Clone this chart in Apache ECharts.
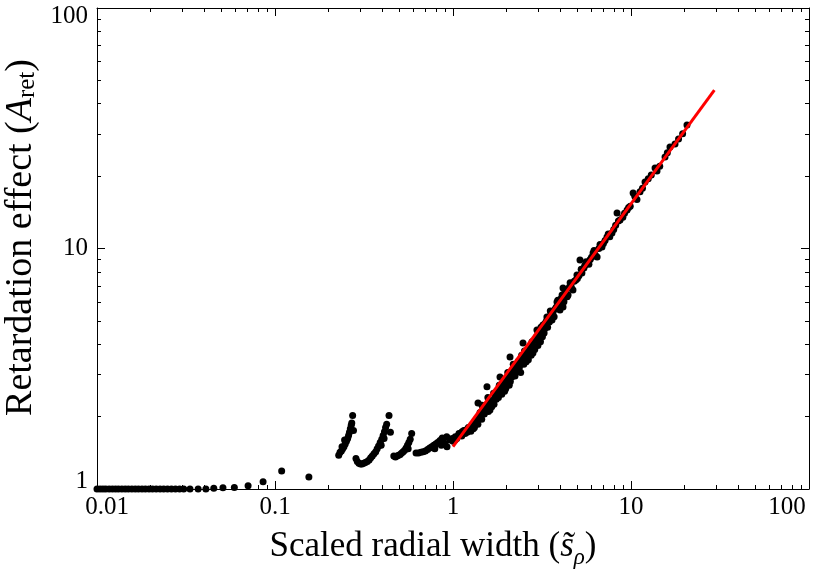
<!DOCTYPE html>
<html>
<head>
<meta charset="utf-8">
<script src="https://cdn.jsdelivr.net/npm/echarts@6.0.0/dist/echarts.min.js"></script>
<style>
	html, body { margin: 0; padding: 0; background: #fff; }
	#grafico { width: 829px; height: 574px; }
</style>
</head>
<body>
<div id="grafico"></div>
<script>
// Valores (x = largura radial escalada, y = efeito de retardo)

// cauda em y ~ 1 (x pequeno)
const pontosCauda = [
	[0.0100, 1.0], [0.0104, 1.0], [0.0108, 1.0], [0.0112, 1.0], [0.0117, 1.0],
	[0.0122, 1.0], [0.0127, 1.0], [0.0132, 1.0], [0.0138, 1.0], [0.0144, 1.0],
	[0.0150, 1.0], [0.0157, 1.0], [0.0164, 1.0], [0.0171, 1.0], [0.0179, 1.0],
	[0.0187, 1.0], [0.0196, 1.0], [0.0205, 1.0], [0.0215, 1.0], [0.0226, 1.0],
	[0.0237, 1.0], [0.0249, 1.0], [0.0262, 1.0], [0.0276, 1.0], [0.0291, 1.0],
	[0.0307, 1.0], [0.0333, 1.0], [0.0370, 1.0], [0.0409, 1.0], [0.0453, 1.007],
	[0.0510, 1.012], [0.0591, 1.015], [0.0706, 1.032], [0.0857, 1.072],
	[0.109, 1.188], [0.155, 1.122]
];

// picos (dentes de serra) entre 0.2 e 1
const pontosPicos = [
	[0.228, 1.38], [0.232, 1.42], [0.236, 1.44], [0.240, 1.47], [0.244, 1.50],
	[0.248, 1.54], [0.252, 1.58], [0.256, 1.62], [0.259, 1.67], [0.262, 1.72],
	[0.265, 1.78], [0.268, 1.84], [0.270, 1.88], [0.273, 2.02], [0.246, 1.60],
	[0.238, 1.50], [0.276, 1.75],
	[0.285, 1.34], [0.290, 1.30], [0.296, 1.28], [0.302, 1.27], [0.308, 1.27],
	[0.315, 1.28], [0.322, 1.29], [0.330, 1.30], [0.338, 1.32], [0.345, 1.35],
	[0.352, 1.37], [0.360, 1.40], [0.368, 1.43], [0.375, 1.47], [0.382, 1.51],
	[0.390, 1.56], [0.398, 1.61], [0.405, 1.67], [0.412, 1.73], [0.418, 1.80],
	[0.424, 1.86], [0.437, 2.02], [0.395, 1.52], [0.410, 1.62], [0.445, 1.72],
	[0.465, 1.37], [0.475, 1.36], [0.485, 1.37], [0.495, 1.38], [0.505, 1.39],
	[0.515, 1.41], [0.525, 1.43], [0.535, 1.45], [0.545, 1.48], [0.555, 1.52],
	[0.565, 1.56], [0.575, 1.61], [0.586, 1.70], [0.560, 1.47],
	[0.620, 1.41], [0.640, 1.41], [0.660, 1.42], [0.680, 1.43], [0.700, 1.44],
	[0.720, 1.46], [0.740, 1.48], [0.760, 1.50], [0.780, 1.52], [0.800, 1.54],
	[0.820, 1.56], [0.845, 1.59], [0.870, 1.63], [0.900, 1.55], [0.922, 1.65],
	[0.790, 1.47], [0.860, 1.52]
];

// faixa principal (x > 1)
const pontosFaixa = [
	[0.925, 1.50], [0.962, 1.60], [0.99, 1.62], [1.00, 1.58], [1.026, 1.60],
	[1.03, 1.65], [1.05, 1.62], [1.067, 1.66], [1.08, 1.70], [1.10, 1.68],
	[1.124, 1.73], [1.15, 1.75], [1.183, 1.76], [1.20, 1.72], [1.22, 1.80],
	[1.246, 1.79], [1.27, 1.82], [1.295, 1.85], [1.30, 1.78], [1.33, 1.90],
	[1.347, 1.94], [1.36, 1.88], [1.382, 2.28], [1.40, 2.00], [1.45, 1.95],
	[1.455, 2.23], [1.50, 2.05], [1.552, 2.66], [1.58, 2.10], [1.613, 2.13],
	[1.62, 2.30], [1.678, 2.34], [1.70, 2.25], [1.72, 2.45], [1.767, 2.53],
	[1.80, 2.40], [1.837, 2.92], [1.85, 2.60], [1.91, 2.71], [1.95, 2.55],
	[2.00, 2.75], [2.011, 2.84], [2.05, 2.95], [2.091, 3.54], [2.10, 2.80],
	[2.173, 3.12], [2.20, 3.00], [2.25, 3.25], [2.288, 3.07], [2.30, 3.15],
	[2.379, 3.34], [2.40, 3.05], [2.45, 3.45], [2.473, 4.05], [2.50, 3.30],
	[2.55, 3.55], [2.603, 3.61], [2.65, 3.45], [2.70, 3.90], [2.706, 3.78],
	[2.75, 3.60], [2.813, 3.68], [2.85, 3.90], [2.90, 4.15], [2.962, 4.58],
	[3.00, 3.95], [3.05, 4.40], [3.079, 4.25], [3.10, 4.10], [3.15, 4.55],
	[3.201, 4.81], [3.25, 4.45], [3.30, 4.90], [3.37, 5.19], [3.40, 4.70],
	[3.45, 5.10], [3.55, 5.30], [3.60, 5.04], [3.65, 5.45], [3.70, 5.20],
	[3.80, 5.70], [3.84, 5.99], [3.90, 5.80], [3.99, 5.55], [4.05, 6.20],
	[4.15, 5.71], [4.15, 6.85], [4.20, 6.00], [4.30, 6.50], [4.43, 6.41],
	[4.50, 6.90], [4.60, 7.00], [4.72, 6.72], [4.80, 7.30], [4.97, 7.76],
	[5.00, 7.50], [5.17, 8.96], [5.30, 7.90], [5.44, 8.30], [5.50, 8.50],
	[5.73, 8.71], [5.90, 9.00], [6.12, 9.58], [6.30, 9.40], [6.45, 9.22],
	[6.60, 10.0], [6.87, 10.15], [7.00, 10.5], [7.33, 11.16], [7.60, 11.2],
	[7.82, 11.6], [8.00, 12.0], [8.35, 14.05], [8.68, 13.14], [9.00, 13.5],
	[9.51, 14.45], [9.90, 15.0], [10.28, 17.0], [10.8, 16.0], [11.24, 17.2],
	[11.99, 18.9], [12.5, 19.5], [13.65, 21.6], [14.5, 22.0], [15.53, 24.0],
	[16.56, 26.4], [17.67, 27.2], [20.63, 32.6],
	[1.12, 1.66], [1.17, 1.70], [1.26, 1.74], [1.32, 1.80], [1.38, 1.86],
	[1.42, 2.08], [1.48, 2.15], [1.53, 2.22], [1.57, 2.40], [1.65, 2.20],
	[1.69, 2.50], [1.75, 2.36], [1.82, 2.70], [1.88, 2.48], [1.93, 2.85],
	[1.98, 2.62], [2.03, 3.05], [2.07, 2.70], [2.14, 2.92], [2.18, 3.30],
	[2.23, 2.95], [2.33, 3.40], [2.36, 3.20], [2.43, 3.60], [2.52, 3.75],
	[2.58, 3.38], [2.68, 3.70], [2.78, 4.10], [2.88, 3.80], [2.95, 4.30],
	[3.12, 4.70], [3.18, 4.30], [3.28, 4.65], [3.35, 5.00], [3.48, 4.95],
	[3.52, 5.50], [3.62, 5.25], [3.75, 5.60], [3.88, 6.10], [4.00, 5.90],
	[4.10, 6.40], [4.25, 6.70], [4.38, 6.30], [4.55, 7.20], [4.65, 6.80],
	[4.90, 7.40], [5.10, 7.70], [5.25, 8.20], [5.60, 8.80], [5.80, 8.60],
	[6.00, 9.20], [6.20, 9.80], [6.70, 10.4], [7.15, 10.8], [7.45, 11.5],
	[8.20, 12.5], [8.50, 13.0], [9.20, 14.0], [9.70, 14.8], [10.5, 16.5],
	[11.6, 17.8], [13.0, 20.2], [14.0, 21.0], [16.0, 25.0], [18.5, 28.5],
	[19.5, 30.0]
];

// reta de ajuste (extremos)
const retaAjuste = [[1.0, 1.5], [29.4, 45.6]];

const fonteSerif = '"Liberation Serif", "DejaVu Serif", serif';

let grafico = null;

function rotuloX(v) {
	const s = +v.toPrecision(3);
	if (s === 0.01) return '{ini|0.01}';
	if (s === 100) return '{fim|100}';
	return '{n|' + s + '}';
}

function rotuloY(v) {
	const s = +v.toPrecision(3);
	if (s === 1) return '{ini|1}';
	if (s === 100) return '{fim|100}';
	return '{n|' + s + '}';
}

function eixoLog(extra) {
	return Object.assign({
		type: 'log',
		logBase: 10,
		axisLine: { show: true, onZero: false, lineStyle: { color: '#000', width: 1 } },
		axisTick: { show: true, inside: true, length: 8, lineStyle: { color: '#000', width: 1 } },
		minorTick: { show: true, splitNumber: 9, length: 4, lineStyle: { color: '#000', width: 1 } },
		splitLine: { show: false },
		minorSplitLine: { show: false }
	}, extra);
}

function desenhar() {
	grafico = echarts.init(document.getElementById('grafico'));

	const estiloTexto = { fontFamily: fonteSerif, fontSize: 25, color: '#000' };
	const tituloX = { fontFamily: fonteSerif, fontSize: 35, lineHeight: 44, color: '#000' };
	const tituloY = { fontFamily: fonteSerif, fontSize: 38, lineHeight: 38, color: '#000' };

	const option = {
		animation: false,
		backgroundColor: '#fff',
		grid: { left: 97, right: 20, top: 8, bottom: 85, outerBoundsMode: 'none', containLabel: false },
		xAxis: [
			eixoLog({
				min: 0.01, max: 100, position: 'bottom',
				axisLabel: {
					margin: 6,
					formatter: rotuloX,
					rich: {
						n: estiloTexto,
						ini: Object.assign({ padding: [0, 0, 0, 20] }, estiloTexto),
						fim: Object.assign({ padding: [0, 44, 0, 0] }, estiloTexto)
					}
				},
				name: '{t|Scaled radial width (}{i|s̃}{sub|ρ}{fim|)}',
				nameLocation: 'middle',
				nameGap: 36,
				nameTextStyle: {
					rich: {
						t: tituloX,
						i: Object.assign({ fontStyle: 'italic' }, tituloX),
						sub: { fontFamily: fonteSerif, fontSize: 23, lineHeight: 23, fontStyle: 'italic', verticalAlign: 'bottom', color: '#000' },
						fim: Object.assign({ padding: [0, 40, 0, 0] }, tituloX)
					}
				}
			}),
			eixoLog({
				min: 0.01, max: 100, position: 'top',
				axisLabel: { show: false }
			})
		],
		yAxis: [
			eixoLog({
				min: 1, max: 100, position: 'left',
				axisLabel: {
					margin: 9,
					formatter: rotuloY,
					rich: {
						n: estiloTexto,
						ini: Object.assign({ padding: [0, 0, 16, 0] }, estiloTexto),
						fim: Object.assign({ padding: [16, 0, 0, 0] }, estiloTexto)
					}
				},
				name: '{ini|Retardation effect (}{i|A}{sub|ret}{t|)}',
				nameLocation: 'middle',
				nameGap: 56,
				nameTextStyle: {
					rich: {
						ini: Object.assign({ padding: [0, 0, 0, 22] }, tituloY),
						t: tituloY,
						i: Object.assign({ fontStyle: 'italic' }, tituloY),
						sub: { fontFamily: fonteSerif, fontSize: 25, lineHeight: 22, verticalAlign: 'bottom', color: '#000' }
					}
				}
			}),
			eixoLog({
				min: 1, max: 100, position: 'right',
				axisLabel: { show: false }
			})
		],
		series: [
			{
				name: 'Pontos',
				type: 'scatter',
				symbol: 'circle',
				symbolSize: 7,
				itemStyle: { color: '#000', opacity: 1 },
				data: pontosCauda.concat(pontosPicos, pontosFaixa),
				z: 2
			},
			{
				name: 'Ajuste',
				type: 'line',
				data: retaAjuste,
				showSymbol: false,
				lineStyle: { color: '#ff0000', width: 3 },
				z: 3
			}
		]
	};

	grafico.setOption(option);
}

desenhar();
</script>
</body>
</html>
